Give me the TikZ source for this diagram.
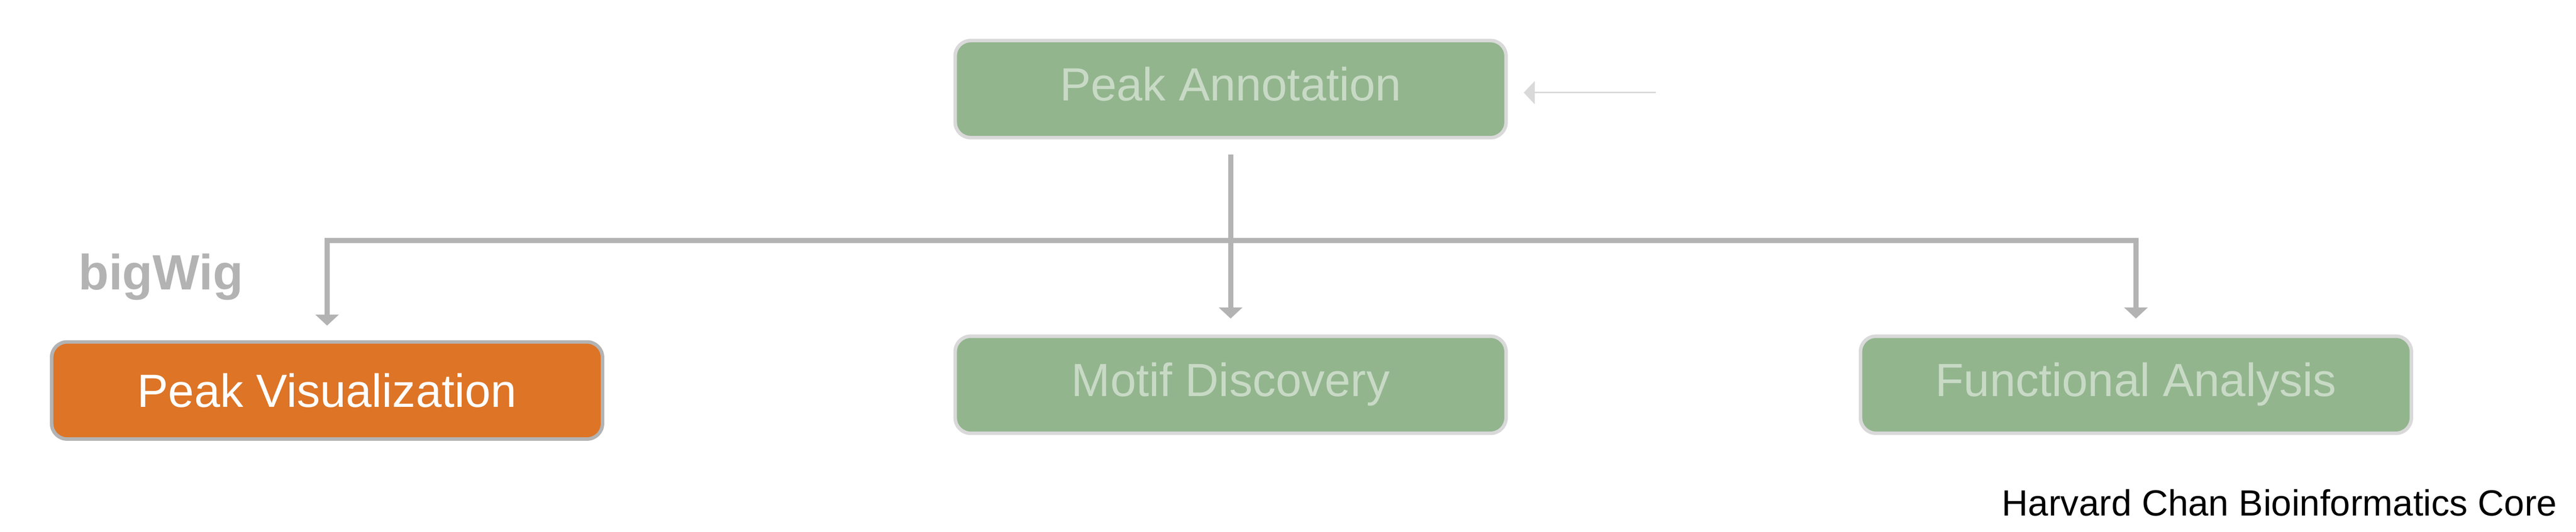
\documentclass[tikz,border=0pt]{standalone}
\usepackage{fontspec}
\setmainfont{Liberation Sans}
\usetikzlibrary{arrows.meta}
\definecolor{boxgreen}{RGB}{146,181,142}
\definecolor{boxgreentext}{RGB}{200,218,197}
\definecolor{boxorange}{RGB}{221,116,38}
\definecolor{linegray}{RGB}{179,179,179}
\definecolor{paleline}{RGB}{217,217,217}
\tikzset{
    stepbox/.style={rounded corners=0.35cm, minimum width=12.48cm, minimum height=2.2cm, line width=0.08cm, inner sep=0pt, font=\fontsize{30}{36}\selectfont},
    greenbox/.style={stepbox, draw=paleline, fill=boxgreen, text=boxgreentext, text height=21.6pt, text depth=6.6pt},
    orangebox/.style={stepbox, draw=linegray, fill=boxorange, text=white, text height=21.6pt, text depth=0pt},
    flow/.style={draw=linegray, line width=0.115cm, -{Triangle[length=0.25cm,width=0.52cm]}},
    feed/.style={draw=paleline, line width=0.035cm, -{Triangle[length=0.25cm,width=0.52cm]}},
}
\begin{document}
\begin{tikzpicture}
            \useasboundingbox (0,0) rectangle (58.36,12.05);
            \node[greenbox] (anno) at (27.88,10.03) {Peak Annotation};
            \node[greenbox] (motif) at (27.88,3.33) {Motif Discovery};
            \node[greenbox] (func) at (48.39,3.33) {Functional Analysis};
            \node[orangebox] (vis) at (7.41,3.20) {Peak Visualization};
            \node[anchor=base west, inner sep=0pt, text=linegray, font=\fontsize{32}{38}\selectfont\bfseries] (bigwig) at (1.77,5.49) {bigWig};
            \node[anchor=base east, inner sep=0pt, font=\fontsize{23.5}{28}\selectfont] (credit) at (57.94,0.36) {Harvard Chan Bioinformatics Core};
            \coordinate (bus) at (27.88,6.60);
            \coordinate (src) at (37.51,9.95);
            \draw[feed, shorten >=0.36cm] (src) -- (anno.east |- src);
            \draw[flow, shorten <=0.34cm, shorten >=0.36cm] (anno) -- (motif);
            \draw[flow, shorten >=0.33cm] (bus) -| (vis);
            \draw[flow, shorten >=0.36cm] (bus) -| (func);
        \end{tikzpicture}
\end{document}
